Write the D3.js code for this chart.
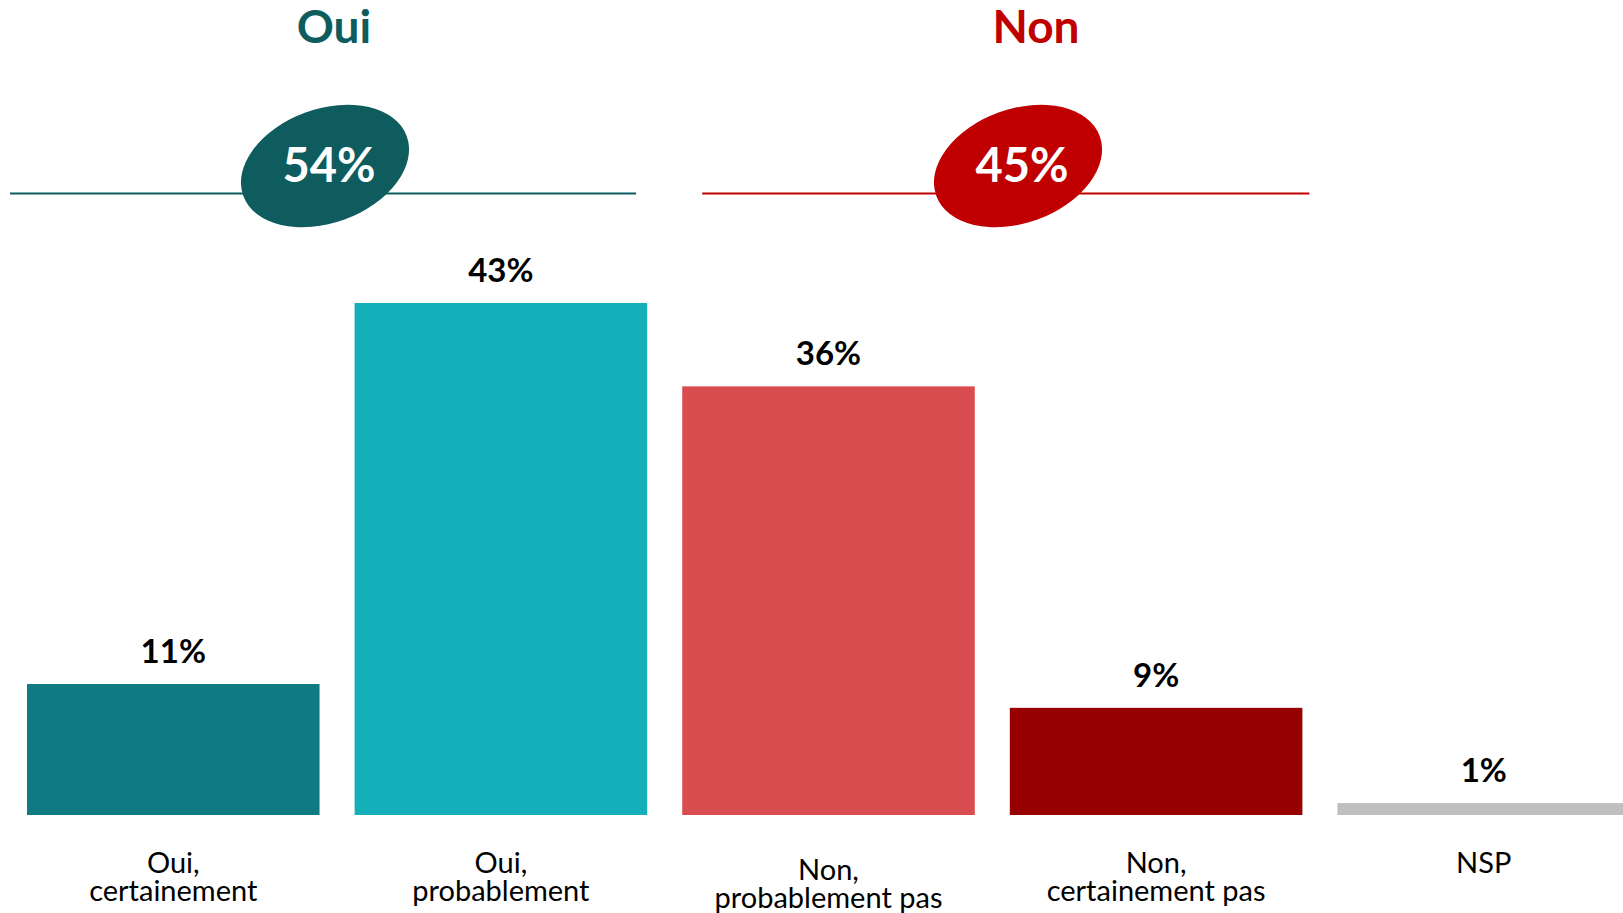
<!DOCTYPE html>
<html>
<head>
<meta charset="utf-8">
<script src="https://cdn.jsdelivr.net/npm/d3@7"></script>
<style>
  html, body { margin: 0; padding: 0; background: #fff; }
  svg { display: block; font-family: Lato, "Open Sans", sans-serif; }
</style>
</head>
<body>
<svg id="chart"></svg>
<script>
var categories = [["Oui,", "certainement"], ["Oui,", "probablement"], ["Non,", "probablement pas"], ["Non,", "certainement pas"], ["NSP"]];
var values = [11, 43, 36, 9, 1];
var barColors = ["#107a82", "#14afb8", "#d94d50", "#960000", "#bfbfbf"];

var groupNames = ["Oui", "Non"];
var groupTotals = [54, 45];
var groupColors = ["#0e5c5e", "#c00000"];

var width = 1623, height = 913;
var baseY = 815;

var svg = d3.select("#chart")
    .attr("width", width)
    .attr("height", height);

var x = d3.scaleBand()
    .domain(d3.range(values.length))
    .range([27, 1630])
    .paddingInner(0.107)
    .paddingOuter(0);

var y = d3.scaleLinear()
    .domain([0, 43])
    .range([baseY, 303]);

// bars
svg.selectAll(".bar")
    .data(values)
    .enter().append("rect")
    .attr("class", "bar")
    .attr("x", function(d, i) { return x(i); })
    .attr("y", function(d) { return y(d); })
    .attr("width", x.bandwidth())
    .attr("height", function(d) { return baseY - y(d); })
    .attr("fill", function(d, i) { return barColors[i]; });

// value labels
svg.selectAll(".val")
    .data(values)
    .enter().append("text")
    .attr("class", "val")
    .attr("x", function(d, i) { return x(i) + x.bandwidth() / 2; })
    .attr("y", function(d) { return y(d) - 21; })
    .attr("text-anchor", "middle")
    .attr("font-size", 33)
    .attr("font-weight", "bold")
    .attr("fill", "#000")
    .text(function(d) { return d + "%"; });

// category labels
var cat = svg.selectAll(".cat")
    .data(categories)
    .enter().append("text")
    .attr("class", "cat")
    .attr("text-anchor", "middle")
    .attr("font-size", 29)
    .attr("fill", "#000");

cat.selectAll("tspan")
    .data(function(d, i) { return d.map(function(t, j) { return {t: t, i: i, j: j}; }); })
    .enter().append("tspan")
    .attr("x", function(d) { return x(d.i) + x.bandwidth() / 2; })
    .attr("y", function(d) {
        // third label sits a little lower
        var top = d.i == 2 ? 880 : 873;
        return top + d.j * 28;
    })
    .text(function(d) { return d.t; });

// group headers: line, tilted ellipse, total, title
var groups = [
    {lineX0: x(0) - 17, lineX1: x(1) + x.bandwidth() - 11, cx: 325, titleX: 334},
    {lineX0: x(2) + 20, lineX1: x(3) + x.bandwidth() + 7, cx: 1018, titleX: 1036}
];

groups.forEach(function(g, i) {
    svg.append("line")
        .attr("x1", g.lineX0)
        .attr("x2", g.lineX1)
        .attr("y1", 193.5)
        .attr("y2", 193.5)
        .attr("stroke", groupColors[i])
        .attr("stroke-width", 2);

    svg.append("ellipse")
        .attr("cx", 0)
        .attr("cy", 0)
        .attr("rx", 87)
        .attr("ry", 57)
        .attr("transform", "translate(" + g.cx + ",166) rotate(-20)")
        .attr("fill", groupColors[i]);

    svg.append("text")
        .attr("x", g.cx + 4)
        .attr("y", 182)
        .attr("text-anchor", "middle")
        .attr("font-size", 47)
        .attr("font-weight", "bold")
        .attr("fill", "#fff")
        .text(groupTotals[i] + "%");

    svg.append("text")
        .attr("x", g.titleX)
        .attr("y", 43)
        .attr("text-anchor", "middle")
        .attr("font-size", 46)
        .attr("font-weight", "bold")
        .attr("fill", groupColors[i])
        .text(groupNames[i]);
});
</script>
</body>
</html>
